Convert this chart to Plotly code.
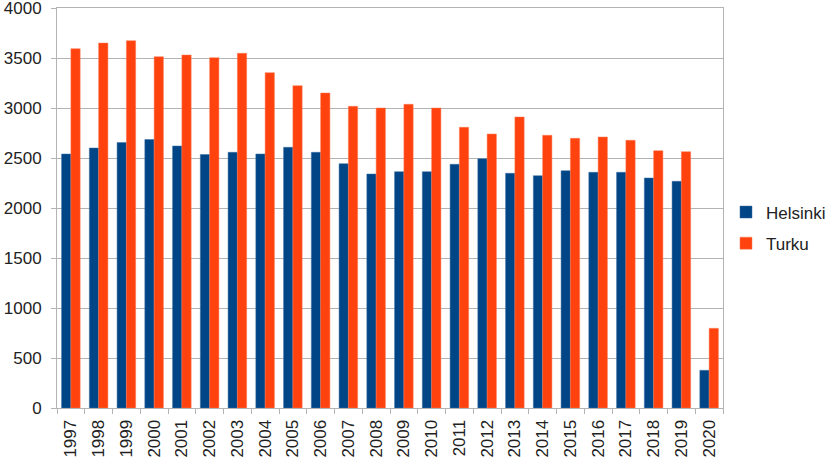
import plotly.graph_objects as go

years = [str(y) for y in range(1997, 2021)]
helsinki = [2540, 2600, 2655, 2685, 2620, 2535, 2557, 2540, 2607, 2557, 2443, 2340,
            2363, 2363, 2437, 2493, 2347, 2323, 2373, 2357, 2357, 2300, 2267, 377]
turku = [3593, 3650, 3673, 3513, 3530, 3503, 3547, 3353, 3223, 3150, 3017, 3000,
         3037, 3000, 2807, 2740, 2910, 2727, 2697, 2710, 2677, 2573, 2563, 797]
yticks = [0, 500, 1000, 1500, 2000, 2500, 3000, 3500, 4000]

fig = go.Figure()
fig.add_trace(go.Bar(name="Helsinki", x=years, y=helsinki, marker_color="#004586",
                     legendgroup="h",
                     marker_line=dict(color="#3a6fa0", width=0.5)))
fig.add_trace(go.Bar(name="Turku", x=years, y=turku, marker_color="#ff420e",
                     legendgroup="t",
                     marker_line=dict(color="#ff7a55", width=0.5)))

fig.update_layout(
    width=827, height=460,
    margin=dict(l=57, r=104, t=8, b=52, autoexpand=False),
    paper_bgcolor="white", plot_bgcolor="white",
    barmode="group", bargap=0.33, bargroupgap=0,
    font=dict(family="Liberation Sans, Arial, sans-serif", size=17, color="#222222"),
    showlegend=True,
    legend=dict(x=1.0045, xanchor="left", y=0.45, yanchor="middle",
                font=dict(size=17, color="#222222"), traceorder="grouped",
                tracegroupgap=6, bgcolor="rgba(0,0,0,0)"),
    xaxis=dict(type="category", tickangle=-90, ticks="outside", tickson="boundaries",
               ticklen=5, tickcolor="#b3b3b3", showgrid=False, ticklabelstandoff=4,
               automargin=False,
               showline=True, linecolor="#b3b3b3", linewidth=1, mirror=True),
    yaxis=dict(range=[0, 4000], tickmode="array", tickvals=yticks,
               ticktext=[str(v) for v in yticks], ticks="outside", ticklen=5,
               tickcolor="#b3b3b3", ticklabelstandoff=6, automargin=False,
               ticklabeloverflow="allow",
               showgrid=True, gridcolor="#b3b3b3", gridwidth=1,
               showline=True, linecolor="#b3b3b3", linewidth=1, mirror=True,
               zeroline=False),
)

fig.write_html("out.html")
